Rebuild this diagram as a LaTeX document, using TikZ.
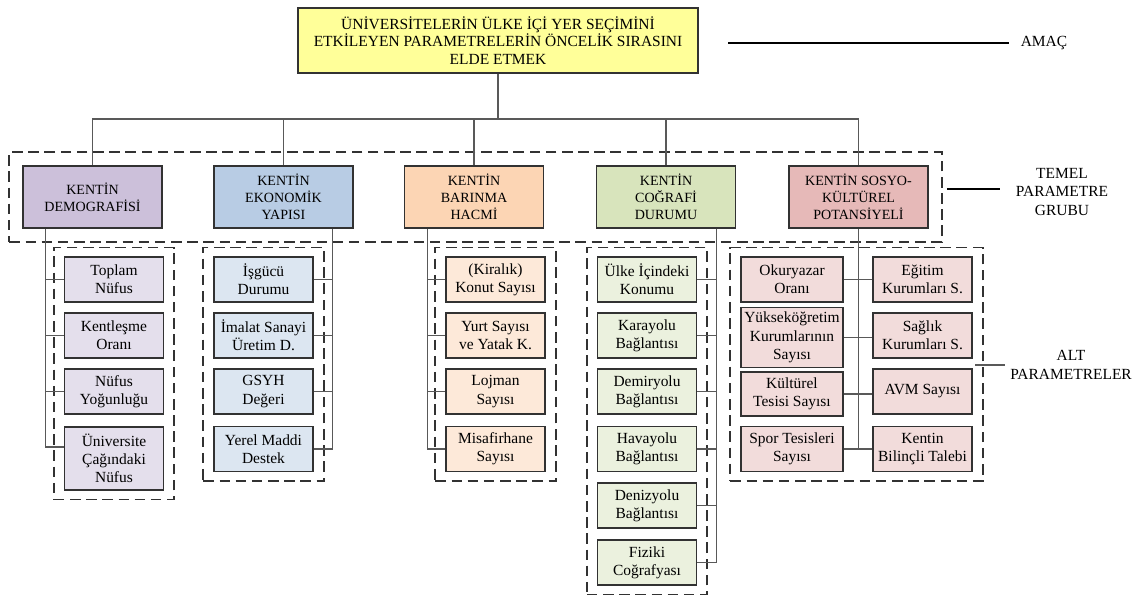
\documentclass[tikz,border=0pt]{standalone}
\usepackage{fontspec}
\setmainfont{Liberation Serif}
\usepackage{tikz}
\usetikzlibrary{calc,fit}
\definecolor{titleyel}{RGB}{255,255,153}
\definecolor{demdark}{RGB}{204,192,218}
\definecolor{demlite}{RGB}{228,223,236}
\definecolor{ekodark}{RGB}{184,204,228}
\definecolor{ekolite}{RGB}{220,230,241}
\definecolor{bardark}{RGB}{252,213,180}
\definecolor{barlite}{RGB}{253,233,217}
\definecolor{cogdark}{RGB}{216,228,188}
\definecolor{coglite}{RGB}{235,241,222}
\definecolor{sosdark}{RGB}{230,185,184}
\definecolor{soslite}{RGB}{242,220,219}
\definecolor{edgegray}{RGB}{50,50,50}

\begin{document}
\begin{tikzpicture}[
  x=0.025cm, y=-0.025cm,
  font=\fontsize{11}{13}\selectfont,
  goal/.style={draw=edgegray,line width=0.9pt,fill=titleyel,minimum width=10cm,
    minimum height=1.625cm,align=center,font=\fontsize{11}{12.5}\selectfont},
  mainpar/.style={draw=edgegray,line width=0.9pt,minimum width=3.475cm,
    minimum height=1.55cm,align=center,font=\fontsize{10}{12}\selectfont},
  subpar/.style={draw=edgegray,line width=0.9pt,minimum width=2.475cm,
    minimum height=1.125cm,align=center,inner xsep=1pt},
  grp/.style={draw=edgegray,line width=1.25pt,dash pattern=on 7.5pt off 4pt,
    inner xsep=0.25cm,inner ysep=0.22cm},
  link/.style={draw=gray!70!black,line width=0.75pt},
  side/.style={align=center,font=\fontsize{11}{13}\selectfont}
]
  \useasboundingbox (0,0) rectangle (1141,599);

  \node[goal] (goal) at (498,40.5)
    {ÜNİVERSİTELERİN ÜLKE İÇİ YER SEÇİMİNİ\\ETKİLEYEN PARAMETRELERİN ÖNCELİK SIRASINI\\ELDE ETMEK};

  % temel parametreler
  \node[mainpar,fill=demdark] (demo) at (92.5,197) {KENTİN\\DEMOGRAFİSİ};
  \node[mainpar,fill=ekodark] (ekon) at (283.5,197) {KENTİN\\EKONOMİK\\YAPISI};
  \node[mainpar,fill=bardark] (barin) at (474,197) {KENTİN\\BARINMA\\HACMİ};
  \node[mainpar,fill=cogdark] (cog) at (666,197) {KENTİN\\COĞRAFİ\\DURUMU};
  \node[mainpar,fill=sosdark] (sosyo) at (858.5,197) {KENTİN SOSYO-\\KÜLTÜREL\\POTANSİYELİ};
  \node[grp,inner sep=0.325cm,fit=(demo)(sosyo)] (tgrp) {};

  \coordinate (bus) at (498,119);
  \draw[link] (goal.south) -- (bus);
  \draw[link] (demo.north) |- (bus) -| (sosyo.north);
  \foreach \n in {ekon,barin,cog}
    \draw[link] (\n.north) -- (\n.north |- bus);

  % alt parametreler
  \node[subpar,fill=demlite] (dn1) at (114,279.5) {Toplam\\Nüfus};
  \node[subpar,fill=demlite] (dn2) at (114,335.5) {Kentleşme\\Oranı};
  \node[subpar,fill=demlite] (dn3) at (114,391.5) {Nüfus\\Yoğunluğu};
  \node[subpar,fill=demlite,minimum height=1.575cm] (dn4) at (114,458.5)
    {Üniversite\\Çağındaki\\Nüfus};
  \node[grp,fit=(dn1)(dn4)] (dgrp) {};

  \node[subpar,fill=ekolite] (ek1) at (263.5,279.5) {İşgücü\\Durumu};
  \node[subpar,fill=ekolite] (ek2) at (263.5,335.5) {İmalat Sanayi\\Üretim D.};
  \node[subpar,fill=ekolite] (ek3) at (263.5,391.5) {GSYH\\Değeri};
  \node[subpar,fill=ekolite] (ek4) at (263.5,449) {Yerel Maddi\\Destek};
  \node[grp,fit=(ek1)(ek4)] (egrp) {};

  \node[subpar,fill=barlite] (bn1) at (495.5,279.5) {(Kiralık)\\Konut Sayısı};
  \node[subpar,fill=barlite] (bn2) at (495.5,335.5) {Yurt Sayısı\\ve Yatak K.};
  \node[subpar,fill=barlite] (bn3) at (495.5,391.5) {Lojman\\Sayısı};
  \node[subpar,fill=barlite] (bn4) at (495.5,449) {Misafirhane\\Sayısı};
  \node[grp,fit=(bn1)(bn4)] (bgrp) {};

  \node[subpar,fill=coglite] (cg1) at (647,279.5) {Ülke İçindeki\\Konumu};
  \node[subpar,fill=coglite] (cg2) at (647,335.5) {Karayolu\\Bağlantısı};
  \node[subpar,fill=coglite] (cg3) at (647,391.5) {Demiryolu\\Bağlantısı};
  \node[subpar,fill=coglite] (cg4) at (647,449) {Havayolu\\Bağlantısı};
  \node[subpar,fill=coglite] (cg5) at (647,505.5) {Denizyolu\\Bağlantısı};
  \node[subpar,fill=coglite] (cg6) at (647,562.5) {Fiziki\\Coğrafyası};
  \node[grp,fit=(cg1)(cg6)] (cgrp) {};

  \node[subpar,fill=soslite,minimum width=2.55cm] (sl1) at (792,279.5) {Okuryazar\\Oranı};
  \node[subpar,fill=soslite,minimum width=2.55cm,minimum height=1.475cm] (sl2) at (792,337.5)
    {Yükseköğretim\\Kurumlarının\\Sayısı};
  \node[subpar,fill=soslite,minimum width=2.55cm,minimum height=1.1cm] (sl3) at (792,394)
    {Kültürel\\Tesisi Sayısı};
  \node[subpar,fill=soslite,minimum width=2.55cm] (sl4) at (792,449) {Spor Tesisleri\\Sayısı};
  \node[subpar,fill=soslite] (sr1) at (922.5,279.5) {Eğitim\\Kurumları S.};
  \node[subpar,fill=soslite] (sr2) at (922.5,335.5) {Sağlık\\Kurumları S.};
  \node[subpar,fill=soslite] (sr3) at (922.5,391.5) {AVM Sayısı};
  \node[subpar,fill=soslite] (sr4) at (922.5,449) {Kentin\\Bilinçli Talebi};
  \node[grp,fit=(sl1)(sr4)] (sgrp) {};

  % baglantilar
  \coordinate (dsp) at ($(demo.south west)+(23,0)$);
  \draw[link] (dsp) |- ([yshift=0.2875cm]dn4.west);
  \foreach \i in {1,2,3}
    \draw[link] (dn\i.west) -- (dn\i.west -| dsp);

  \coordinate (esp) at ($(ekon.south east)+(-21,0)$);
  \draw[link] (esp) |- (ek4.east);
  \foreach \i in {1,2,3}
    \draw[link] (ek\i.east) -- (ek\i.east -| esp);

  \coordinate (bsp) at ($(barin.south west)+(24,0)$);
  \draw[link] (bsp) |- (bn4.west);
  \foreach \i in {1,2,3}
    \draw[link] (bn\i.west) -- (bn\i.west -| bsp);

  \coordinate (csp) at ($(cog.south east)+(-20,0)$);
  \draw[link] (csp) |- (cg6.east);
  \foreach \i in {1,...,5}
    \draw[link] (cg\i.east) -- (cg\i.east -| csp);

  \draw[link] (sosyo.south) -- (sosyo.south |- sl4.east);
  \foreach \i in {1,...,4}
    \draw[link] (sl\i.east) -- (sl\i.east -| sr\i.west);

  % sag etiketler
  \node[side] (amac) at (1044,43) {AMAÇ};
  \node[side] (temel) at (1062,192) {TEMEL\\PARAMETRE\\GRUBU};
  \node[side] (alt) at (1071,365) {ALT\\PARAMETRELER};
  \coordinate (amacL) at (728,43);
  \draw[link,draw=black,shorten >=5pt] (amacL) -- (amac.west);
  \draw[link,draw=black,shorten <=3pt,shorten >=8pt] ([yshift=0.075cm]temel.west -| tgrp.east) -- ([yshift=0.075cm]temel.west);
  \draw[link,shorten <=2pt] (alt.west -| sr2.east) -- (alt.west);
\end{tikzpicture}
\end{document}
